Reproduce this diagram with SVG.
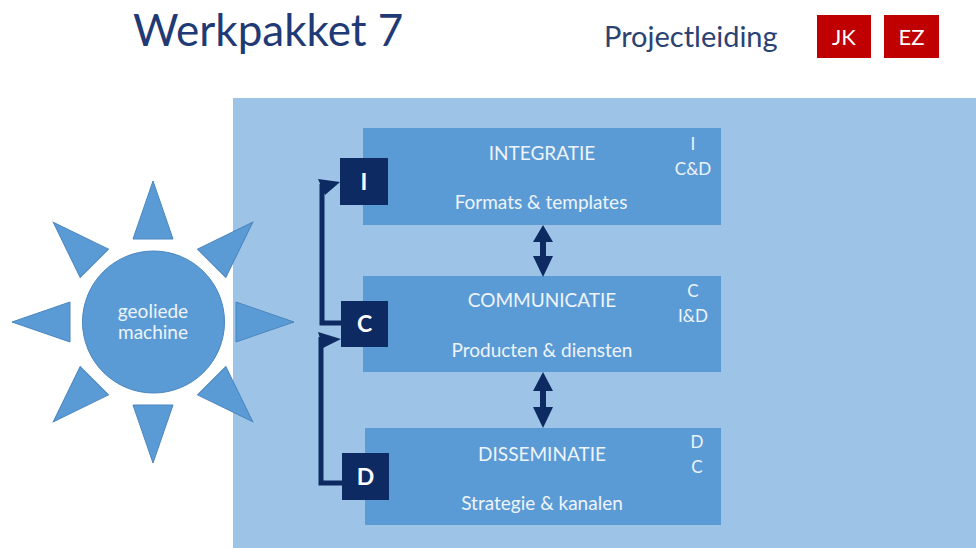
<svg xmlns="http://www.w3.org/2000/svg" width="976" height="548" viewBox="0 0 976 548">
<defs>
<style>
.t{font-family:Lato,"Open Sans","Liberation Sans",sans-serif}
.box{fill:#5b9bd5}
.lbl{fill:#0e2a62}
.w{fill:#eef4fb;text-anchor:middle}
.big{font-size:19px}
.sub{font-size:19px}
.code{font-size:17px}
.sq{fill:#ffffff;font-size:23px;font-weight:bold;text-anchor:middle}
.conn{fill:none;stroke:#0e2a62;stroke-width:5;stroke-linejoin:miter}
.ray{fill:#5b9bd5;stroke:#4a86bf;stroke-width:1}
</style>
<polygon id="ray" points="153,181 133,239 173,239"/>
</defs>
<rect x="0" y="0" width="976" height="548" fill="#ffffff"/>
<g id="title">
<text class="t" x="133" y="46" font-size="44" fill="#1f3a75">Werkpakket 7</text>
<text class="t" x="604" y="47" font-size="29" fill="#2b4272">Projectleiding</text>
<rect x="817" y="15" width="54" height="43" fill="#c00000"/>
<rect x="884" y="15" width="55" height="43" fill="#c00000"/>
<text class="t" x="844" y="45" font-size="22" fill="#ffffff" text-anchor="middle">JK</text>
<text class="t" x="911.5" y="45" font-size="22" fill="#ffffff" text-anchor="middle">EZ</text>
</g>
<rect id="panel" x="233" y="98" width="743" height="450" fill="#9dc3e6"/>
<g id="sun">
<g class="ray">
<use href="#ray" transform="rotate(0 153 322)"/>
<use href="#ray" transform="rotate(45 153 322)"/>
<use href="#ray" transform="rotate(90 153 322)"/>
<use href="#ray" transform="rotate(135 153 322)"/>
<use href="#ray" transform="rotate(180 153 322)"/>
<use href="#ray" transform="rotate(225 153 322)"/>
<use href="#ray" transform="rotate(270 153 322)"/>
<use href="#ray" transform="rotate(315 153 322)"/>
</g>
<circle cx="153.5" cy="322" r="71" fill="#5b9bd5" stroke="#4a86bf" stroke-width="1"/>
<text class="t w" x="153" y="318" font-size="19">geoliede</text>
<text class="t w" x="153" y="339" font-size="19">machine</text>
</g>
<g id="integratie">
<rect class="box" x="363" y="128" width="358" height="97"/>
<text class="t w big" x="542" y="160">INTEGRATIE</text>
<text class="t w sub" x="541" y="209">Formats &amp; templates</text>
<text class="t w code" x="693" y="150">I</text>
<text class="t w code" x="693" y="175">C&amp;D</text>
</g>
<g id="communicatie">
<rect class="box" x="363" y="276" width="358" height="96"/>
<text class="t w big" x="542" y="307">COMMUNICATIE</text>
<text class="t w sub" x="542" y="357">Producten &amp; diensten</text>
<text class="t w code" x="693" y="297">C</text>
<text class="t w code" x="693" y="322">I&amp;D</text>
</g>
<g id="disseminatie">
<rect class="box" x="365" y="428" width="356" height="97"/>
<text class="t w big" x="542" y="461">DISSEMINATIE</text>
<text class="t w sub" x="542" y="510">Strategie &amp; kanalen</text>
<text class="t w code" x="697" y="448">D</text>
<text class="t w code" x="697" y="473">C</text>
</g>
<g id="tag-I">
<rect class="lbl" x="340" y="158" width="48" height="47"/>
<text class="t sq" x="364" y="190">I</text>
</g>
<g id="tag-C">
<rect class="lbl" x="341" y="301" width="47" height="46"/>
<text class="t sq" x="364.5" y="332">C</text>
</g>
<g id="tag-D">
<rect class="lbl" x="342" y="453" width="47" height="47"/>
<text class="t sq" x="365.5" y="485">D</text>
</g>
<g id="connectors">
<path class="conn" d="M341,323 H322 V184"/>
<polygon fill="#0e2a62" points="318,179 340,182 325,195"/>
<path class="conn" d="M342,483 H321 V337"/>
<polygon fill="#0e2a62" points="318,332 341,339 323,348"/>
<g fill="#0e2a62">
<polygon points="543,225 553,242 546,242 546,256 553,256 543,277 533,256 540,256 540,242 533,242"/>
<polygon points="543,372 553,391 546,391 546,407 553,407 543,428 533,407 540,407 540,391 533,391"/>
</g>
</g>
</svg>
